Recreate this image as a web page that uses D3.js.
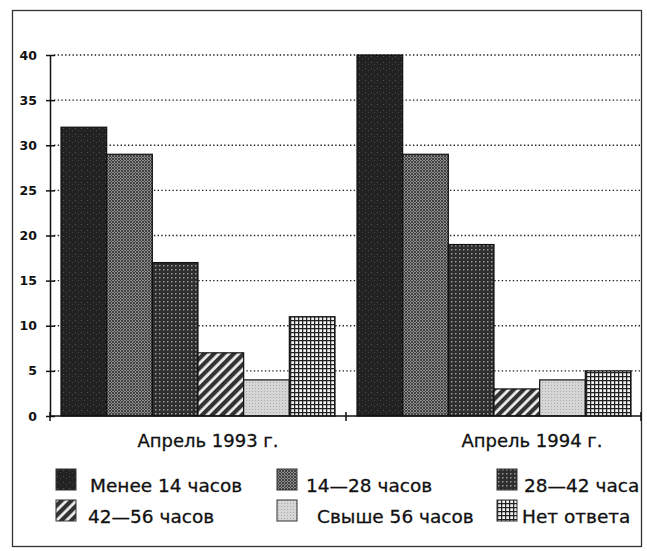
<!DOCTYPE html>
<html>
<head>
<meta charset="utf-8">
<script src="https://cdn.jsdelivr.net/npm/d3@7"></script>
<style>
  body { margin: 0; background: #fff; }
  svg { display: block; }
  text { font-family: "DejaVu Sans", "Open Sans", sans-serif; fill: #111; }
  .lbl { stroke: #111; stroke-width: 0.3; }
</style>
</head>
<body>
<svg id="chart" width="647" height="551"></svg>
<script>
// ----- data ------------------------------------------------------------
const groups = ["Апрель 1993 г.", "Апрель 1994 г."];
const series = ["Менее 14 часов", "14—28 часов", "28—42 часа", "42—56 часов", "Свыше 56 часов", "Нет ответа"];
const values1993 = [32, 29, 17, 7, 4, 11];
const values1994 = [40, 29, 19, 3, 4, 5];
const yTicks = [0, 5, 10, 15, 20, 25, 30, 35, 40];

const table = groups.map((g, i) => ({
    group: g,
    vals: (i === 0 ? values1993 : values1994).map((v, j) => ({ key: series[j], idx: j, v }))
}));

// ----- layout ----------------------------------------------------------
const svg = d3.select("#chart");
const plot = { left: 50, right: 642, top: 55, bottom: 416 };

// frame
svg.append("rect")
    .attr("x", 12.5).attr("y", 10.5)
    .attr("width", 629).attr("height", 536)
    .attr("fill", "none").attr("stroke", "#333").attr("stroke-width", 1.3);

// ----- patterns --------------------------------------------------------
const defs = svg.append("defs");
function pat(id, size) {
    return defs.append("pattern").attr("id", id)
        .attr("patternUnits", "userSpaceOnUse")
        .attr("width", size).attr("height", size);
}
// 0: very dark, speckled
let p = pat("p0", 6);
p.append("rect").attr("width", 6).attr("height", 6).attr("fill", "#222");
p.append("rect").attr("x", 1).attr("y", 2).attr("width", 1).attr("height", 1).attr("fill", "#555");
p.append("rect").attr("x", 4).attr("y", 4).attr("width", 1).attr("height", 1).attr("fill", "#444");
// 1: dense crosshatch gray
p = pat("p1", 3);
p.append("rect").attr("width", 3).attr("height", 3).attr("fill", "#8e8e8e");
p.append("path").attr("d", "M0,0L3,3M0,3L3,0").attr("stroke", "#3a3a3a").attr("stroke-width", 0.9);
// 2: dark with light dot grid
p = pat("p2", 4);
p.append("rect").attr("width", 4).attr("height", 4).attr("fill", "#2e2e2e");
p.append("rect").attr("x", 1).attr("y", 1).attr("width", 1.5).attr("height", 1.5).attr("fill", "#9a9a9a");
// 3: diagonal stripes
p = pat("p3", 7).attr("patternTransform", "rotate(45)");
p.append("rect").attr("width", 7).attr("height", 7).attr("fill", "#eee");
p.append("rect").attr("x", 0).attr("width", 4.2).attr("height", 7).attr("fill", "#333");
// 4: light gray fine dots
p = pat("p4", 3);
p.append("rect").attr("width", 3).attr("height", 3).attr("fill", "#d6d6d6");
p.append("rect").attr("x", 1).attr("y", 1).attr("width", 1).attr("height", 1).attr("fill", "#aaa");
// 5: grid on white
p = pat("p5", 4);
p.append("rect").attr("width", 4).attr("height", 4).attr("fill", "#f2f2f2");
p.append("path").attr("d", "M0,0.6H4M0.6,0V4").attr("stroke", "#222").attr("stroke-width", 1.3);

// ----- scales ----------------------------------------------------------
const y = d3.scaleLinear().domain([0, 40]).range([plot.bottom, plot.top]);
const x0 = d3.scaleBand().domain(groups).range([plot.left, plot.right]);
const x1 = d3.scaleBand().domain(series).range([11, 285]);

// gridlines
svg.append("g")
    .selectAll("line")
    .data(yTicks.filter((d) => d > 0))
    .join("line")
    .attr("x1", plot.left + 4).attr("x2", plot.right - 1)
    .attr("y1", (d) => y(d)).attr("y2", (d) => y(d))
    .attr("stroke", "#222").attr("stroke-width", 1.4)
    .attr("stroke-dasharray", "1.4,2.3");

// bars
const gGroups = svg.append("g")
    .selectAll("g")
    .data(table)
    .join("g")
    .attr("transform", (d) => `translate(${x0(d.group)},0)`);

gGroups.selectAll("rect")
    .data((d) => d.vals)
    .join("rect")
    .attr("x", (d) => x1(d.key))
    .attr("y", (d) => y(d.v))
    .attr("width", x1.bandwidth())
    .attr("height", (d) => y(0) - y(d.v))
    .attr("fill", (d) => `url(#p${d.idx})`)
    .attr("stroke", "#111").attr("stroke-width", 1.2);

// y axis
const yAxis = d3.axisLeft(y).tickValues(yTicks).tickSizeInner(4).tickSizeOuter(0).tickPadding(9);
const ya = svg.append("g").attr("transform", `translate(${plot.left},0)`).call(yAxis);
ya.select(".domain").attr("stroke", "#111").attr("stroke-width", 1.5);
ya.selectAll(".tick line").attr("x2", 5).attr("x1", -4).attr("stroke", "#111").attr("stroke-width", 1.5);
ya.selectAll(".tick text")
    .attr("font-size", 12.5).attr("font-weight", "bold")
    .attr("font-family", "'Open Sans', sans-serif").attr("fill", "#111");

// x axis
const xa = svg.append("g").attr("transform", `translate(0,${plot.bottom})`);
xa.append("line")
    .attr("x1", plot.left).attr("x2", plot.right - 1)
    .attr("stroke", "#111").attr("stroke-width", 1.5);
const xEdges = [plot.left, x0(groups[1]), plot.right - 1];
xa.selectAll("line.tk")
    .data(xEdges)
    .join("line").attr("class", "tk")
    .attr("x1", (d) => d).attr("x2", (d) => d)
    .attr("y1", -4).attr("y2", 5)
    .attr("stroke", "#111").attr("stroke-width", 1.5);
xa.selectAll("text")
    .data(groups)
    .join("text")
    .attr("class", "lbl")
    .attr("x", (d) => x0(d) + x0.bandwidth() / 2 + (d === groups[0] ? 10 : 38))
    .attr("y", 31)
    .attr("text-anchor", "middle")
    .attr("font-size", 18)
    .text((d) => d);

// ----- legend ----------------------------------------------------------
const legCols = [56, 277, 497];
const legRows = [492, 523];
const leg = svg.append("g")
    .selectAll("g")
    .data(series)
    .join("g")
    .attr("transform", (d, i) => `translate(${legCols[i % 3]},${legRows[Math.floor(i / 3)]})`);
leg.append("rect")
    .attr("x", 0).attr("y", -23)
    .attr("width", 20).attr("height", 21)
    .attr("fill", (d, i) => `url(#p${i})`)
    .attr("stroke", "#333").attr("stroke-width", 1);
leg.append("text")
    .attr("class", "lbl")
    .attr("x", (d, i) => [34, 29, 27, 32, 40, 25][i])
    .attr("y", 0)
    .attr("font-size", 18.5)
    .text((d) => d);
</script>
</body>
</html>
